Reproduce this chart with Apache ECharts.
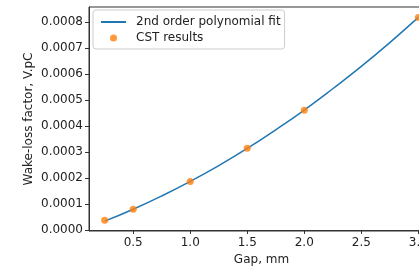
<!DOCTYPE html>
<html>
<head>
<meta charset="utf-8">
<script src="https://cdn.jsdelivr.net/npm/echarts@6/dist/echarts.min.js"></script>
<style>
    html, body { margin: 0; padding: 0; background: #fff; }
    #chart { width: 419px; height: 266px; }
</style>
</head>
<body>
<div id="chart"></div>
<script type="text/javascript">
    // CST points (gap mm, wake-loss V/pC)
    var gapPoints = [0.25, 0.5, 1.0, 1.5, 2.0, 3.0];
    var cstValues = [0.0000373, 0.0000795, 0.000187, 0.000315, 0.000461, 0.000819];

    // fitted curve
    var fitGaps = [0.25, 0.5, 0.75, 1.0, 1.25, 1.5, 1.75, 2.0, 2.25, 2.5, 2.75, 3.0];
    var fitValues = [0.0000340, 0.0000800, 0.000131, 0.000187, 0.000248, 0.000314,
                     0.000386, 0.000462, 0.000544, 0.000630, 0.000722, 0.000819];

    var xTicks = [0.5, 1.0, 1.5, 2.0, 2.5, 3.0];
    var yTicks = [0, 0.0001, 0.0002, 0.0003, 0.0004, 0.0005, 0.0006, 0.0007, 0.0008];

    var font = 'DejaVu Sans';

    function pairs(xs, ys) {
        var out = [];
        for (var i = 0; i < xs.length; i++) {
            out.push([xs[i], ys[i]]);
        }
        return out;
    }

    var myChart = echarts.init(document.getElementById('chart'));
    var option = {
        animation: false,
        grid: {
            left: 89,
            top: 7,
            right: -15,
            bottom: 35,
            show: true,
            borderColor: '#333',
            borderWidth: 1,
            outerBoundsMode: 'none'
        },
        legend: {
            orient: 'vertical',
            left: 93,
            top: 10,
            padding: [6, 4, 5, 7],
            itemGap: 4,
            itemWidth: 25,
            itemHeight: 7,
            borderColor: '#ccc',
            borderWidth: 1,
            borderRadius: 3,
            backgroundColor: 'rgba(255,255,255,0.8)',
            textStyle: { fontFamily: font, fontSize: 12, color: '#222', padding: [0, 0, 0, 5] },
            data: [
                { name: '2nd order polynomial fit', itemStyle: { opacity: 0 } },
                { name: 'CST results', icon: 'circle' }
            ]
        },
        xAxis: {
            type: 'value',
            min: 0.1125,
            max: 3.1375,
            name: 'Gap, mm',
            nameLocation: 'middle',
            nameGap: 23,
            nameMoveOverlap: false,
            nameTextStyle: { fontFamily: font, fontSize: 12, color: '#222' },
            axisLine: { show: true, lineStyle: { color: '#333', width: 1 } },
            axisTick: { show: true, length: 4, customValues: xTicks, lineStyle: { color: '#333' } },
            axisLabel: {
                customValues: xTicks,
                margin: 6,
                fontFamily: font,
                fontSize: 12,
                color: '#222',
                formatter: function (v) { return v.toFixed(1); }
            },
            splitLine: { show: false }
        },
        yAxis: {
            type: 'value',
            min: -0.000004,
            max: 0.000859,
            name: 'Wake-loss factor, V.pC',
            nameLocation: 'middle',
            nameGap: 54,
            nameMoveOverlap: false,
            nameTextStyle: { fontFamily: font, fontSize: 12, color: '#222' },
            axisLine: { show: true, lineStyle: { color: '#333', width: 1 } },
            axisTick: { show: true, length: 4, customValues: yTicks, lineStyle: { color: '#333' } },
            axisLabel: {
                customValues: yTicks,
                margin: 6,
                fontFamily: font,
                fontSize: 12,
                color: '#222',
                formatter: function (v) { return v.toFixed(4); }
            },
            splitLine: { show: false }
        },
        series: [
            {
                name: '2nd order polynomial fit',
                type: 'line',
                smooth: true,
                showSymbol: false,
                symbol: 'none',
                color: '#1f77b4',
                lineStyle: { color: '#1f77b4', width: 1.5 },
                data: pairs(fitGaps, fitValues),
                z: 2
            },
            {
                name: 'CST results',
                type: 'scatter',
                symbolSize: 7,
                color: '#ff7f0e',
                itemStyle: { color: '#ff7f0e' },
                data: pairs(gapPoints, cstValues),
                z: 3
            }
        ]
    };
    myChart.setOption(option);
</script>
</body>
</html>
